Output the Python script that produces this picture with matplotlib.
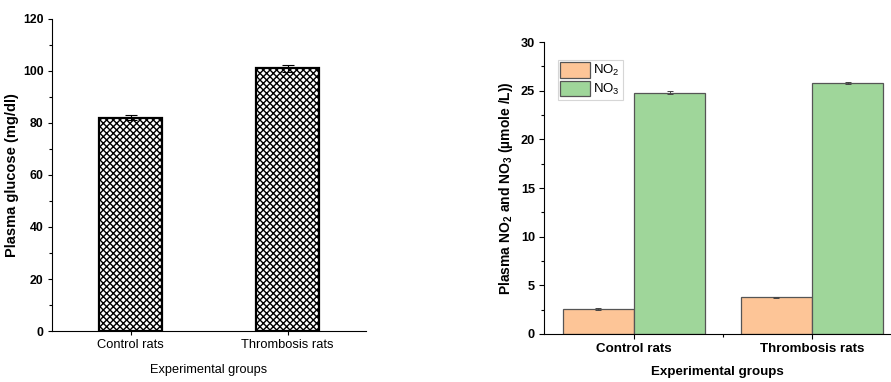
import matplotlib
matplotlib.use('Agg')
import matplotlib.pyplot as plt
import numpy as np
from matplotlib.ticker import MultipleLocator

plt.rcParams['font.family'] = ['Liberation Sans', 'DejaVu Sans']
plt.rcParams['mathtext.fontset'] = 'custom'
plt.rcParams['mathtext.rm'] = 'Liberation Sans'
plt.rcParams['mathtext.bf'] = 'Liberation Sans:bold'
plt.rcParams['hatch.linewidth'] = 1.0

groups = ['Control rats', 'Thrombosis rats']
glucose = [82.0, 101.0]
glucose_err = [1.0, 1.4]
no2 = [2.55, 3.8]
no2_err = [0.08, 0.05]
no3 = [24.8, 25.8]
no3_err = [0.15, 0.08]

fig = plt.figure(figsize=(8.91, 3.82), dpi=100)

# left panel: glucose
ax1 = fig.add_axes([0.0584, 0.1335, 0.3524, 0.8168])
x = np.arange(1, len(groups) + 1)
ax1.bar(x, glucose, width=0.4, color='white', edgecolor='black', linewidth=1.6,
        hatch='xxxxx')
ax1.errorbar(x, glucose, yerr=glucose_err, fmt='none', ecolor='black',
             elinewidth=0.8, capsize=4, capthick=0.8)
ax1.set_xlim(0.5, 2.5)
ax1.set_ylim(0, 120)
ax1.yaxis.set_major_locator(MultipleLocator(20))
ax1.yaxis.set_minor_locator(MultipleLocator(10))
ax1.set_xticks(x)
ax1.set_xticklabels(groups, fontsize=9.3)
for t in ax1.get_yticklabels():
    t.set_fontweight('bold')
    t.set_fontsize(8.8)
ax1.spines['top'].set_visible(False)
ax1.spines['right'].set_visible(False)
ax1.tick_params(axis='both', which='major', length=3, width=0.8, pad=3)
ax1.tick_params(axis='y', which='minor', length=2, width=0.8)
ax1.set_ylabel('Plasma glucose (mg/dl)', fontsize=10.5, fontweight='bold', labelpad=3)
ax1.set_xlabel('Experimental groups', fontsize=9.2, labelpad=9)

# right panel: NO2 / NO3
ax2 = fig.add_axes([0.6105, 0.1257, 0.3895, 0.764])
w = 0.4
ax2.bar(x - w / 2, no2, width=w, color='#FDC597', edgecolor='#555555',
        linewidth=0.9, label='NO$_2$')
ax2.bar(x + w / 2, no3, width=w, color='#9FD69A', edgecolor='#555555',
        linewidth=0.9, label='NO$_3$')
ax2.errorbar(x - w / 2, no2, yerr=no2_err, fmt='none', ecolor='#444444',
             elinewidth=0.7, capsize=2, capthick=0.7)
ax2.errorbar(x + w / 2, no3, yerr=no3_err, fmt='none', ecolor='#444444',
             elinewidth=0.7, capsize=2, capthick=0.7)
ax2.set_xlim(0.494, 2.444)
ax2.set_ylim(0, 30)
ax2.yaxis.set_major_locator(MultipleLocator(5))
ax2.yaxis.set_minor_locator(MultipleLocator(2.5))
ax2.set_xticks(x)
ax2.set_xticks([1.5], minor=True)
ax2.set_xticklabels(groups, fontsize=9.6, fontweight='bold')
for t in ax2.get_yticklabels():
    t.set_fontweight('bold')
    t.set_fontsize(9.2)
ax2.spines['top'].set_visible(False)
ax2.spines['right'].set_visible(False)
ax2.tick_params(axis='both', which='major', length=3.5, width=0.8, pad=3)
ax2.tick_params(axis='both', which='minor', length=2, width=0.8)
ax2.set_ylabel('Plasma NO$_\\mathbf{2}$ and NO$_\\mathbf{3}$ (µmole /L))',
               fontsize=10, fontweight='bold', labelpad=4)
ax2.set_xlabel('Experimental groups', fontsize=9.6, fontweight='bold', labelpad=8)
leg = ax2.legend(loc='upper left', bbox_to_anchor=(0.04, 0.94), fontsize=9.5,
                 frameon=True, fancybox=False, edgecolor='#cccccc',
                 handlelength=2.2, handleheight=1.4, handletextpad=0.3,
                 borderpad=0.2, labelspacing=0.2, borderaxespad=0)
leg.get_frame().set_linewidth(0.8)

fig.savefig('out.png', dpi=100)
